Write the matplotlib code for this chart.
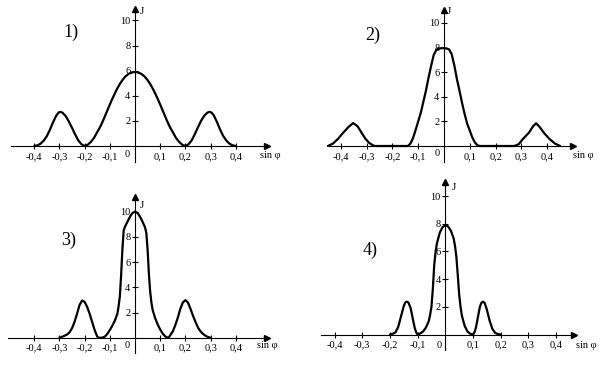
import matplotlib
matplotlib.use('Agg')
import matplotlib.pyplot as plt

plt.rcParams['font.family'] = ['Liberation Serif', 'DejaVu Serif']

W, H = 612, 374

# ---- text / ticks ----
x_ticks = [-0.4, -0.3, -0.2, -0.1, 0.1, 0.2, 0.3, 0.4]
x_tick_labels = ['-0,4', '-0,3', '-0,2', '-0,1', '0,1', '0,2', '0,3', '0,4']
y_ticks = [2, 4, 6, 8, 10]
y_tick_labels = ['2', '4', '6', '8', '10']
panel_labels = ['1)', '2)', '3)', '4)']
x_axis_label = 'sin φ'
y_axis_label = 'J'
origin_label = '0'

# ---- data ----
x1 = [-0.4, -0.3875, -0.375, -0.3625, -0.35, -0.3375, -0.325, -0.3125, -0.3025, -0.295,
      -0.2875, -0.275, -0.2625, -0.25, -0.2375, -0.225, -0.2125, -0.2,
      -0.1875, -0.175, -0.1625, -0.15, -0.1375, -0.125, -0.1125, -0.1, -0.0875, -0.075,
      -0.0625, -0.05, -0.0375, -0.025, -0.0125, 0.0,
      0.0125, 0.025, 0.0375, 0.05, 0.0625, 0.075, 0.0875, 0.1, 0.1125, 0.125, 0.1375,
      0.15, 0.1625, 0.175, 0.1875, 0.2,
      0.2125, 0.225, 0.2375, 0.25, 0.2625, 0.275, 0.2875, 0.295, 0.3025, 0.3125, 0.325,
      0.3375, 0.35, 0.3625, 0.375, 0.3875, 0.4]
y1 = [0.0, 0.05, 0.18, 0.42, 0.78, 1.3, 1.9, 2.42, 2.68, 2.72,
      2.65, 2.38, 1.95, 1.45, 0.92, 0.45, 0.14, 0.0,
      0.1, 0.33, 0.65, 1.1, 1.55, 2.1, 2.7, 3.3, 3.87, 4.4,
      4.87, 5.25, 5.55, 5.75, 5.86, 5.9,
      5.86, 5.75, 5.55, 5.25, 4.87, 4.4, 3.87, 3.3, 2.7, 2.1, 1.55,
      1.1, 0.65, 0.33, 0.1, 0.0,
      0.14, 0.45, 0.95, 1.5, 2.02, 2.42, 2.66, 2.72, 2.68, 2.45, 1.92,
      1.32, 0.8, 0.43, 0.18, 0.05, 0.0]

x2 = [-0.45, -0.43, -0.41, -0.39, -0.37, -0.352, -0.335, -0.32, -0.305, -0.29, -0.275, -0.268,
      -0.14, -0.13, -0.12, -0.11, -0.1, -0.09, -0.08, -0.07, -0.06, -0.05, -0.04, -0.03,
      -0.02, -0.01, 0.0, 0.01, 0.02, 0.03, 0.04, 0.05, 0.06, 0.07, 0.08, 0.09, 0.1, 0.11,
      0.12, 0.13, 0.14,
      0.272, 0.29, 0.305, 0.33, 0.345, 0.357, 0.37, 0.39, 0.41, 0.43, 0.45]
y2 = [0.0, 0.2, 0.6, 1.1, 1.55, 1.87, 1.6, 1.1, 0.6, 0.25, 0.05, 0.0,
      0.0, 0.2, 0.65, 1.3, 2.0, 2.7, 3.6, 4.5, 5.55, 6.5, 7.4, 7.8,
      7.93, 7.95, 7.95, 7.93, 7.85, 7.45, 6.55, 5.45, 4.5, 3.5, 2.6, 1.8, 1.25, 0.68,
      0.28, 0.05, 0.0,
      0.0, 0.15, 0.55, 1.1, 1.6, 1.85, 1.56, 1.0, 0.55, 0.2, 0.0]

x3 = [-0.3, -0.29, -0.28, -0.27, -0.26, -0.25, -0.24, -0.23, -0.22, -0.21, -0.2, -0.19,
      -0.18, -0.17, -0.16, -0.15, -0.145,
      -0.13, -0.12, -0.11, -0.1, -0.09, -0.08, -0.07, -0.065, -0.06, -0.055, -0.05,
      -0.045, -0.04, -0.03, -0.02, -0.01, 0.0,
      0.01, 0.02, 0.03, 0.04, 0.045, 0.05, 0.055, 0.06, 0.065, 0.07, 0.08, 0.09, 0.1,
      0.11, 0.12, 0.13,
      0.135, 0.15, 0.16, 0.17, 0.18, 0.19, 0.2, 0.21, 0.22, 0.23, 0.24, 0.25, 0.26,
      0.27, 0.28, 0.29, 0.3]
y3 = [0.0, 0.07, 0.15, 0.25, 0.42, 0.75, 1.25, 1.9, 2.6, 2.95, 2.85, 2.45,
      1.9, 1.25, 0.6, 0.1, 0.0,
      0.0, 0.08, 0.3, 0.6, 0.95, 1.35, 1.9, 2.5, 3.3, 5.0, 7.0,
      8.5, 8.8, 9.2, 9.6, 9.9, 10.0,
      9.9, 9.6, 9.2, 8.75, 8.3, 7.0, 5.1, 3.7, 2.8, 2.2, 1.55, 1.05, 0.65,
      0.32, 0.1, 0.0,
      0.05, 0.5, 1.0, 1.6, 2.3, 2.8, 2.98, 2.8, 2.3, 1.75, 1.25, 0.8, 0.5,
      0.3, 0.15, 0.05, 0.0]

x4 = [-0.2, -0.19, -0.18, -0.17, -0.16, -0.15, -0.145, -0.139, -0.133, -0.125, -0.12,
      -0.115, -0.11, -0.105,
      -0.1, -0.09, -0.08, -0.07, -0.06, -0.055, -0.05, -0.045, -0.04, -0.035, -0.03,
      -0.02, -0.01, 0.0,
      0.01, 0.02, 0.03, 0.035, 0.04, 0.045, 0.05, 0.055, 0.06, 0.07, 0.08, 0.09, 0.1,
      0.105, 0.11, 0.115, 0.12, 0.125, 0.13, 0.136, 0.142, 0.15, 0.16, 0.17, 0.18,
      0.19, 0.2]
y4 = [0.0, 0.05, 0.15, 0.55, 1.3, 2.05, 2.3, 2.37, 2.3, 1.9, 1.4,
      0.9, 0.45, 0.15,
      0.0, 0.08, 0.22, 0.5, 0.95, 1.4, 2.0, 3.3, 5.0, 6.0, 6.6,
      7.35, 7.75, 7.9,
      7.8, 7.5, 6.95, 6.4, 5.6, 4.3, 2.9, 2.0, 1.35, 0.62, 0.22, 0.05, 0.0,
      0.15, 0.45, 0.95, 1.5, 2.0, 2.28, 2.37, 2.28, 1.8, 1.0, 0.4, 0.12,
      0.03, 0.0]

series = [(x1, y1), (x2, y2), (x3, y3), (x4, y4)]

# ---- layout (pixels) ----
layouts = [
    dict(box=(11, 267, 9, 162), origin=(135, 146), ppx=252, ppy=12.55,
         lab=(71, 32), sin=(260, 155), J=(140, 12), zero=(127.5, 154.5)),
    dict(box=(329, 573, 10, 162), origin=(444, 146), ppx=258, ppy=12.3,
         lab=(373, 35), sin=(573, 155), J=(447, 12), zero=(437, 154)),
    dict(box=(8, 267, 197, 353), origin=(135, 337.7), ppx=252, ppy=12.6,
         lab=(69, 240), sin=(257, 345.5), J=(140, 206), zero=(127.5, 345)),
    dict(box=(321, 574, 182, 350), origin=(445.3, 334.5), ppx=277, ppy=13.85,
         lab=(370, 250), sin=(576, 345), J=(452, 188), zero=(439, 345)),
]

fig = plt.figure(figsize=(W / 100, H / 100), dpi=100)
fig.patch.set_facecolor('white')

def fx(px):
    return px / W

def fy(py):
    return 1 - py / H

for (xs, ys), L, plab in zip(series, layouts, panel_labels):
    left, right, top, bottom = L['box']
    ox, oy = L['origin']
    ax = fig.add_axes([fx(left), fy(bottom), (right - left) / W, (bottom - top) / H])
    ax.set_xlim((left - ox) / L['ppx'], (right - ox) / L['ppx'])
    ax.set_ylim((oy - bottom) / L['ppy'], (oy - top) / L['ppy'])
    ax.patch.set_visible(False)
    for s in ('top', 'right'):
        ax.spines[s].set_visible(False)
    for s in ('left', 'bottom'):
        ax.spines[s].set_position(('data', 0))
        ax.spines[s].set_linewidth(0.8)
        ax.spines[s].set_color('black')
    ax.set_xticks(x_ticks, x_tick_labels)
    ax.set_yticks(y_ticks, y_tick_labels)
    ax.tick_params(axis='both', direction='inout', length=4.5, width=0.8,
                   labelsize=7.5, colors='black')
    ax.tick_params(axis='x', pad=2)
    ax.tick_params(axis='y', pad=1)
    # arrow heads
    ax.plot([1], [0], marker='>', ms=5, color='black',
            transform=ax.get_yaxis_transform(), clip_on=False)
    ax.plot([0], [1], marker='^', ms=5, color='black',
            transform=ax.get_xaxis_transform(), clip_on=False)
    # curve
    ax.plot(xs, ys, color='black', lw=1.6, solid_joinstyle='round',
            solid_capstyle='round', clip_on=False)
    # texts
    fig.text(fx(L['lab'][0]), fy(L['lab'][1]), plab, fontsize=13,
             ha='center', va='center')
    fig.text(fx(L['sin'][0]), fy(L['sin'][1]), x_axis_label, fontsize=7.5,
             ha='left', va='center')
    fig.text(fx(L['J'][0]), fy(L['J'][1]), y_axis_label, fontsize=8,
             ha='left', va='center')
    fig.text(fx(L['zero'][0]), fy(L['zero'][1]), origin_label, fontsize=7.5,
             ha='center', va='center')

fig.savefig('out.png', dpi=100, facecolor='white')
